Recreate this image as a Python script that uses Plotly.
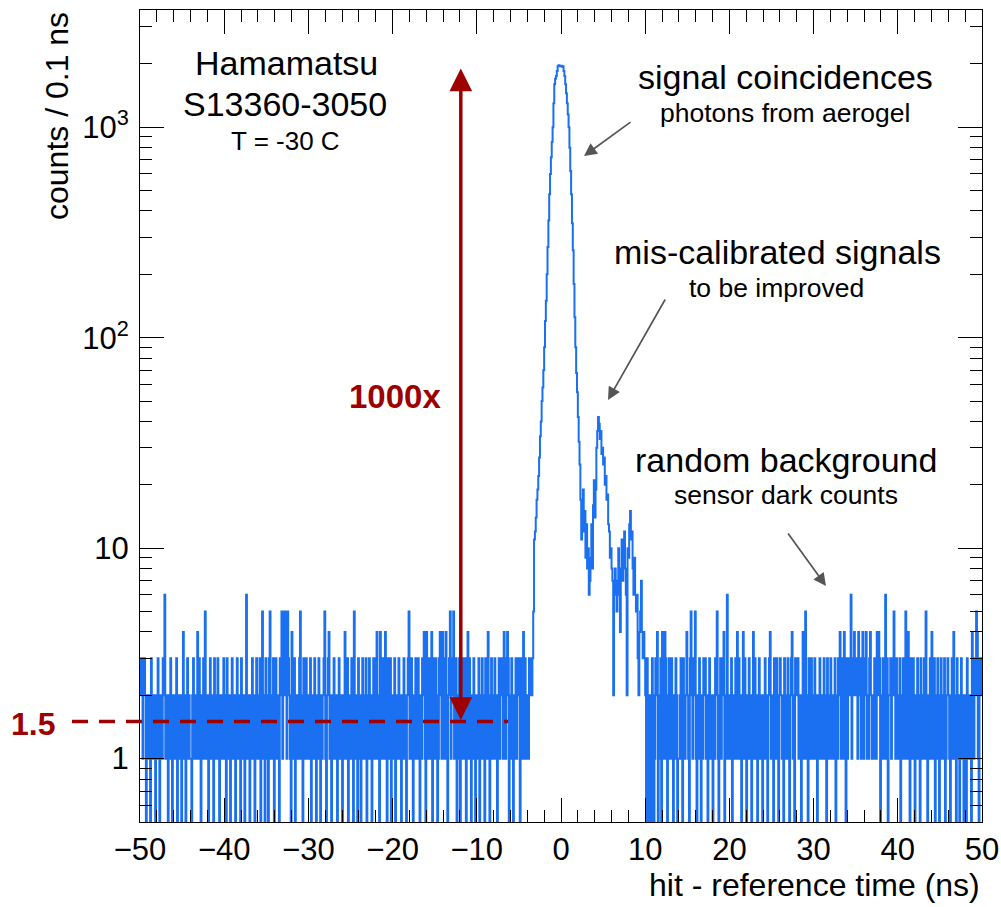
import math
import plotly.graph_objects as go

# ---------------- data (counts per 0.1 ns bin, read/estimated from the picture) ----------------
x_min, x_max, bin_width = -50.0, 50.0, 0.1

counts_m50_m40 = [
    3, 2, 3, 1, 2, 3, 2, 0, 1, 2,
    1, 2, 0, 3, 1, 2, 2, 1, 0, 2,
    1, 3, 2, 0, 1, 2, 1, 3, 2, 6,
    1, 2, 1, 0, 2, 1, 3, 2, 0, 1,
    2, 1, 1, 3, 0, 2, 1, 2, 1, 0,
    2, 4, 1, 2, 0, 1, 3, 1, 2, 1,
    1, 0, 2, 3, 1, 2, 1, 2, 4, 1,
    3, 1, 0, 2, 1, 3, 1, 5, 2, 1,
    2, 0, 1, 3, 2, 1, 2, 0, 3, 1,
    1, 2, 3, 1, 0, 2, 1, 2, 1, 3,
]
counts_m40_m30 = [
    2, 1, 0, 3, 1, 2, 1, 0, 2, 3,
    1, 2, 1, 0, 2, 3, 1, 2, 1, 0,
    3, 1, 2, 1, 0, 2, 6, 1, 2, 1,
    0, 2, 1, 3, 2, 1, 0, 2, 3, 1,
    2, 1, 3, 0, 1, 5, 2, 1, 0, 3,
    1, 2, 0, 3, 5, 1, 2, 1, 3, 0,
    1, 3, 2, 1, 2, 0, 3, 2, 5, 1,
    5, 4, 2, 5, 1, 5, 3, 2, 1, 0,
    4, 2, 1, 3, 0, 2, 1, 2, 1, 3,
    5, 1, 2, 0, 3, 1, 2, 3, 1, 2,
]
counts_m30_m20 = [
    1, 2, 3, 0, 2, 1, 2, 3, 1, 0,
    2, 1, 3, 1, 0, 2, 1, 2, 3, 5,
    1, 0, 2, 3, 4, 1, 2, 0, 1, 2,
    3, 1, 2, 1, 0, 2, 3, 1, 2, 1,
    0, 2, 1, 4, 2, 1, 3, 0, 2, 1,
    2, 3, 1, 0, 5, 2, 1, 2, 0, 3,
    1, 2, 0, 2, 3, 1, 2, 1, 3, 0,
    2, 1, 3, 1, 2, 0, 1, 3, 2, 1,
    3, 4, 1, 2, 0, 4, 2, 1, 3, 2,
    1, 4, 2, 0, 3, 1, 2, 3, 0, 2,
]
counts_m20_m10 = [
    2, 1, 3, 0, 2, 1, 2, 3, 1, 2,
    0, 2, 1, 3, 2, 1, 0, 2, 3, 5,
    1, 2, 3, 1, 0, 2, 1, 3, 2, 1,
    3, 1, 0, 2, 1, 3, 2, 4, 1, 0,
    4, 2, 1, 3, 2, 1, 4, 0, 2, 3,
    1, 3, 2, 0, 1, 3, 4, 2, 1, 4,
    2, 1, 3, 4, 1, 0, 2, 3, 5, 1,
    3, 2, 5, 1, 2, 3, 0, 2, 1, 3,
    0, 2, 1, 3, 2, 1, 3, 0, 2, 4,
    1, 3, 2, 0, 1, 2, 3, 1, 0, 2,
]
counts_m10_m4 = [
    2, 1, 3, 0, 2, 1, 3, 2, 1, 0,
    3, 2, 1, 4, 2, 0, 1, 3, 2, 1,
    1, 3, 2, 1, 0, 2, 3, 1, 2, 3,
    2, 1, 4, 3, 1, 2, 4, 3, 0, 2,
    1, 3, 2, 0, 2, 1, 3, 1, 2, 3,
    2, 0, 3, 1, 2, 4, 1, 3, 2, 1,
]
counts_signal_m4_p10 = [
    2, 1, 3, 2, 3, 2, 3, 5, 11, 12,
    14, 17, 19, 22, 27, 34, 40, 50, 58, 70,
    90, 120, 150, 200, 270, 360, 480, 600, 720, 850,
    1000, 1300, 1600, 1700, 1750, 1850, 1950, 1970, 1960, 1950,
    1960, 1940, 1950, 1850, 1750, 1600, 1450, 1300, 1150, 1000,
    800, 620, 480, 350, 260, 180, 125, 90, 68, 55,
    42, 32, 25, 17, 11, 14, 19, 12, 15, 9,
    13, 8, 10, 6, 7, 9, 13, 8, 16, 21,
    14, 19, 30, 36, 42, 39, 33, 36, 28, 30,
    25, 27, 20, 22, 17, 18, 13, 12, 9, 10,
    8, 7, 2, 6, 8, 6, 5, 7, 10, 6,
    4, 8, 11, 7, 9, 12, 8, 6, 2, 10,
    9, 13, 15, 11, 12, 8, 6, 9, 6, 5,
    6, 3, 2, 4, 5, 7, 4, 3, 4, 3,
]
counts_p10_p20 = [
    2, 0, 3, 1, 0, 2, 1, 0, 3, 2,
    0, 1, 3, 2, 4, 0, 2, 1, 3, 0,
    4, 2, 1, 4, 3, 1, 0, 2, 3, 1,
    2, 3, 1, 0, 2, 1, 3, 2, 0, 1,
    1, 2, 3, 1, 0, 3, 2, 1, 2, 4,
    2, 1, 0, 3, 5, 2, 1, 3, 2, 5,
    1, 0, 2, 1, 3, 2, 0, 2, 1, 3,
    2, 3, 1, 2, 0, 1, 3, 2, 1, 2,
    0, 2, 1, 3, 2, 5, 1, 0, 2, 3,
    1, 2, 3, 4, 0, 2, 1, 6, 2, 1,
]
counts_p20_p30 = [
    2, 1, 3, 0, 2, 1, 2, 3, 1, 4,
    1, 3, 2, 1, 0, 2, 4, 1, 3, 2,
    0, 2, 1, 3, 2, 1, 0, 2, 4, 1,
    3, 1, 2, 0, 1, 3, 2, 1, 2, 0,
    2, 1, 3, 2, 1, 0, 2, 3, 4, 1,
    1, 2, 0, 3, 2, 1, 3, 1, 0, 2,
    3, 2, 1, 2, 0, 3, 1, 2, 1, 3,
    1, 0, 2, 3, 4, 1, 2, 0, 3, 2,
    2, 3, 1, 2, 1, 0, 2, 4, 1, 3,
    5, 1, 2, 0, 3, 2, 1, 3, 2, 1,
]
counts_p30_p40 = [
    2, 3, 1, 2, 0, 2, 1, 3, 2, 1,
    1, 2, 3, 1, 2, 0, 3, 2, 1, 2,
    3, 1, 2, 2, 1, 3, 0, 2, 1, 3,
    2, 4, 1, 3, 2, 1, 4, 2, 0, 3,
    1, 2, 3, 2, 6, 1, 2, 3, 4, 2,
    3, 2, 1, 4, 2, 3, 1, 2, 4, 1,
    2, 3, 4, 1, 2, 1, 3, 4, 2, 1,
    2, 1, 3, 2, 1, 4, 2, 4, 3, 0,
    1, 2, 3, 1, 2, 6, 1, 3, 0, 2,
    2, 3, 1, 2, 3, 5, 2, 1, 3, 2,
]
counts_p40_p50 = [
    1, 2, 3, 0, 2, 1, 3, 2, 1, 5,
    2, 1, 4, 2, 0, 3, 1, 2, 3, 1,
    0, 2, 1, 3, 2, 1, 0, 3, 2, 1,
    2, 3, 1, 5, 2, 0, 1, 2, 3, 1,
    4, 1, 2, 3, 0, 2, 1, 3, 2, 0,
    1, 3, 2, 1, 2, 3, 0, 1, 2, 3,
    2, 1, 0, 2, 3, 1, 4, 2, 1, 0,
    3, 2, 1, 0, 2, 3, 1, 2, 0, 1,
    2, 0, 3, 1, 2, 1, 2, 0, 4, 2,
    1, 3, 2, 5, 4, 1, 0, 3, 3, 2,
]

y_tick_values = [1, 10, 100, 1000]
y_tick_labels = ["1", "10", "10<sup>2</sup>", "10<sup>3</sup>"]
x_tick_values = [-50, -40, -30, -20, -10, 0, 10, 20, 30, 40, 50]
background_level = 1.5
peak_level = 1900

# ---------------- build histogram ----------------
counts = (counts_m50_m40 + counts_m40_m30 + counts_m30_m20 + counts_m20_m10 + counts_m10_m4
          + counts_signal_m4_p10 + counts_p10_p20 + counts_p20_p30 + counts_p30_p40 + counts_p40_p50)
n_bins = len(counts)
edges = [x_min + bin_width * i for i in range(n_bins + 1)]
floor = 0.05  # empty bins drop below the visible range (like ROOT on a log axis)
y_draw = [c if c > 0 else floor for c in counts] + [counts[-1] if counts[-1] > 0 else floor]

BLUE = "#1a70f0"
RED = "#9c0000"
GREY = "#555555"
FONT = "Liberation Sans, Arial, Helvetica, sans-serif"

# plot-area geometry (pixels)
L, R, T, B = 140, 982, 10, 822
W, H = R - L, B - T

fig = go.Figure()
fig.add_trace(go.Scatter(
    x=edges, y=y_draw, mode="lines", line=dict(color=BLUE, width=2, shape="hv"),
    showlegend=False, hoverinfo="skip",
))

y_lo, y_hi = math.log10(0.5), 3.557
minor_vals = ([v / 10 for v in range(6, 10)] + list(range(2, 10)) + list(range(20, 100, 10))
              + list(range(200, 1000, 100)) + [2000, 3000])

fig.update_layout(
    width=1001, height=907,
    margin=dict(l=L, r=1001 - R, t=T, b=907 - B, autoexpand=False),
    paper_bgcolor="white", plot_bgcolor="white",
    font=dict(family=FONT, color="black"),
    showlegend=False,
)
fig.update_xaxes(
    range=[x_min, x_max], showgrid=False, zeroline=False, automargin=False,
    showline=True, linecolor="black", linewidth=1, mirror="ticks",
    ticks="inside", ticklen=24, tickwidth=1, tickcolor="black",
    tickvals=x_tick_values, tickfont=dict(size=31),
    minor=dict(ticks="inside", ticklen=12, tickwidth=1, tickcolor="black", dtick=2, tick0=0, showgrid=False),
)
fig.update_yaxes(
    type="log", range=[y_lo, y_hi], showgrid=False, zeroline=False, automargin=False,
    showline=True, linecolor="black", linewidth=1, mirror="ticks",
    ticks="inside", ticklen=24, tickwidth=1, tickcolor="black",
    tickvals=y_tick_values, ticktext=y_tick_labels, tickfont=dict(size=31),
    ticklabelstandoff=4,
    minor=dict(ticks="inside", ticklen=12, tickwidth=1, tickcolor="black", tickvals=minor_vals, showgrid=False),
)

def px_to_paper(px, py):
    return (px - L) / W, (B - py) / H

annotations = []

def text(s, px, py, size, color="black", bold=False, xanchor="center"):
    x, y = px_to_paper(px, py)
    annotations.append(dict(
        text=f"<b>{s}</b>" if bold else s, x=x, y=y, xref="paper", yref="paper",
        xanchor=xanchor, yanchor="middle", showarrow=False,
        font=dict(size=size, color=color, family=FONT),
    ))

text("Hamamatsu", 286, 63, 34)
text("S13360-3050", 285, 104, 34)
text("T = -30 C", 285, 141, 26)
text("signal coincidences", 785, 77, 34)
text("photons from aerogel", 785, 113, 26.5)
text("mis-calibrated signals", 777, 252, 34)
text("to be improved", 776, 288, 26.5)
text("random background", 786, 460, 34)
text("sensor dark counts", 786, 495, 26.5)
text("1000x", 395, 397, 33, color=RED, bold=True)
text("1.5", 33, 724, 32, color=RED, bold=True)

# axis titles (ROOT style: aligned to the axis end)
annotations.append(dict(text="hit - reference time (ns)", x=1.0, y=(B - 885) / H,
                        xref="paper", yref="paper", xanchor="right", yanchor="middle",
                        showarrow=False, font=dict(size=32, family=FONT)))
annotations.append(dict(text="counts / 0.1 ns", x=(57 - L) / W, y=1.0, textangle=-90,
                        xref="paper", yref="paper", xanchor="center", yanchor="top",
                        showarrow=False, font=dict(size=32, family=FONT)))

def grey_arrow(tail, tip):
    x, y = px_to_paper(*tip)
    annotations.append(dict(
        x=x, y=y, xref="paper", yref="paper", ax=tail[0] - tip[0], ay=tail[1] - tip[1],
        showarrow=True, arrowhead=2, arrowsize=1.5, arrowwidth=1.7, arrowcolor=GREY,
        standoff=0, text="",
    ))

grey_arrow((632, 121), (584, 156))
grey_arrow((666, 298), (608, 400))
grey_arrow((787, 532), (826, 586))

# red double arrow from background level to peak
x_arrow = -11.9
y_bot = math.log10(background_level)
y_top = math.log10(peak_level)
annotations.append(dict(
    x=x_arrow, y=y_top, xref="x", yref="y", ax=x_arrow, ay=y_bot, axref="x", ayref="y",
    showarrow=True, arrowhead=2, arrowside="end+start", arrowsize=1.3, arrowwidth=3.5,
    arrowcolor=RED, standoff=0, startstandoff=0, text="",
))

fig.update_layout(annotations=annotations)

# dashed background-level line (extends left of the frame towards the "1.5" label)
y_bg_paper = (math.log10(background_level) - y_lo) / (y_hi - y_lo)
fig.add_shape(type="line", xref="paper", yref="paper",
              x0=(72 - L) / W, x1=(508 - L) / W, y0=y_bg_paper, y1=y_bg_paper,
              line=dict(color=RED, width=3.5, dash="16px,11px"), layer="above")

fig.write_html(
    "out.html",
    config={"displayModeBar": False, "staticPlot": True},
    post_script="document.documentElement.style.margin='0';document.body.style.margin='0';"
                "document.body.style.overflow='hidden';",
)
